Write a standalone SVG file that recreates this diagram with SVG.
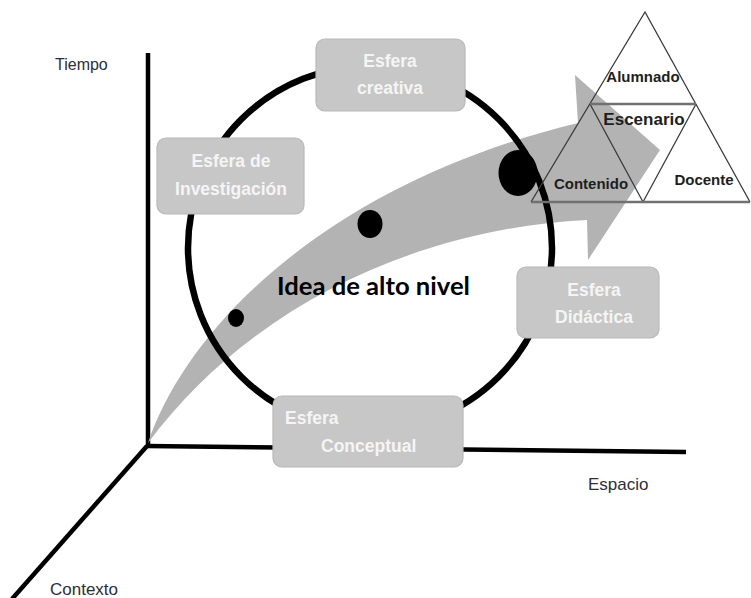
<svg xmlns="http://www.w3.org/2000/svg" width="751" height="598" viewBox="0 0 751 598">
  <style>
    .axis { stroke: #000; stroke-width: 4.5; fill: none; stroke-linecap: butt; }
    .axlabel { font-family: "Liberation Sans", Arial, sans-serif; font-size: 17px; fill: #2e2e38; }
    .box { fill: #c7c7c7; stroke: #b8b8b8; stroke-width: 1.2; }
    .boxtxt { font-family: "Liberation Sans", Arial, sans-serif; font-size: 17.5px; font-weight: bold; fill: #f5f5f5; }
    .tri { stroke: #3a3a3a; stroke-width: 1.3; fill: none; }
    .triH { stroke: #707070; stroke-width: 2.5; fill: none; }
    .tritxt { font-family: "Liberation Sans", Arial, sans-serif; font-size: 15px; font-weight: bold; fill: #1e1e1e; text-anchor: middle; }
  </style>
  <rect width="751" height="598" fill="#ffffff"/>

  <g id="connectors">
    <g id="axes">
      <line class="axis" x1="148" y1="53" x2="148" y2="448"/>
      <line class="axis" x1="146" y1="446" x2="686" y2="452"/>
      <line class="axis" x1="147" y1="446" x2="12" y2="599"/>
    </g>
    <path id="idea-arrow" fill="#b3b3b3" d="M148,443 C188,325 330,183 578,123 L575,75 L660,150 L588,260 L587,220 C420,228 250,305 148,443 Z"/>
    <circle id="cycle" cx="370" cy="248" r="182" fill="none" stroke="#000" stroke-width="6.5"/>
  </g>

  <g id="dots" fill="#000">
    <ellipse cx="236" cy="318" rx="8" ry="9"/>
    <ellipse cx="370" cy="224" rx="12.5" ry="14"/>
    <ellipse cx="518" cy="173" rx="19.5" ry="23"/>
  </g>

  <g id="node-creativa">
    <rect class="box" x="316" y="39" width="149" height="72" rx="9"/>
    <text class="boxtxt" x="390" y="67" text-anchor="middle">Esfera</text>
    <text class="boxtxt" x="390" y="94" text-anchor="middle">creativa</text>
  </g>
  <g id="node-investigacion">
    <rect class="box" x="157" y="138" width="147" height="76" rx="9"/>
    <text class="boxtxt" x="231" y="167" text-anchor="middle">Esfera de</text>
    <text class="boxtxt" x="231" y="195" text-anchor="middle">Investigación</text>
  </g>
  <g id="node-didactica">
    <rect class="box" x="517" y="267" width="142" height="71" rx="9"/>
    <text class="boxtxt" x="594" y="296" text-anchor="middle">Esfera</text>
    <text class="boxtxt" x="594" y="323" text-anchor="middle">Didáctica</text>
  </g>
  <g id="node-conceptual">
    <rect class="box" x="273" y="396" width="190" height="71" rx="9"/>
    <text class="boxtxt" x="285" y="424">Esfera</text>
    <text class="boxtxt" x="321" y="452">Conceptual</text>
  </g>

  <g id="node-triangle">
    <polyline class="tri" points="531,202 645,12 750,202"/>
    <polyline class="tri" points="590,104 643,202 696,104"/>
    <line class="triH" x1="590" y1="104" x2="696" y2="104"/>
    <line class="triH" x1="531" y1="202" x2="750" y2="202"/>
    <text class="tritxt" x="643" y="82">Alumnado</text>
    <text class="tritxt" x="644" y="125" style="font-size:17px">Escenario</text>
    <text class="tritxt" x="591" y="189">Contenido</text>
    <text class="tritxt" x="704" y="185">Docente</text>
  </g>

  <g id="label-idea">
    <text x="277" y="295" font-family="Lato, 'Open Sans', sans-serif" font-size="25" font-weight="bold" fill="#000" textLength="193" lengthAdjust="spacingAndGlyphs">Idea de alto nivel</text>
  </g>

  <g id="axis-labels">
    <text class="axlabel" x="55" y="70" style="font-size:16px">Tiempo</text>
    <text class="axlabel" x="588" y="490">Espacio</text>
    <text class="axlabel" x="50" y="595">Contexto</text>
  </g>
</svg>
